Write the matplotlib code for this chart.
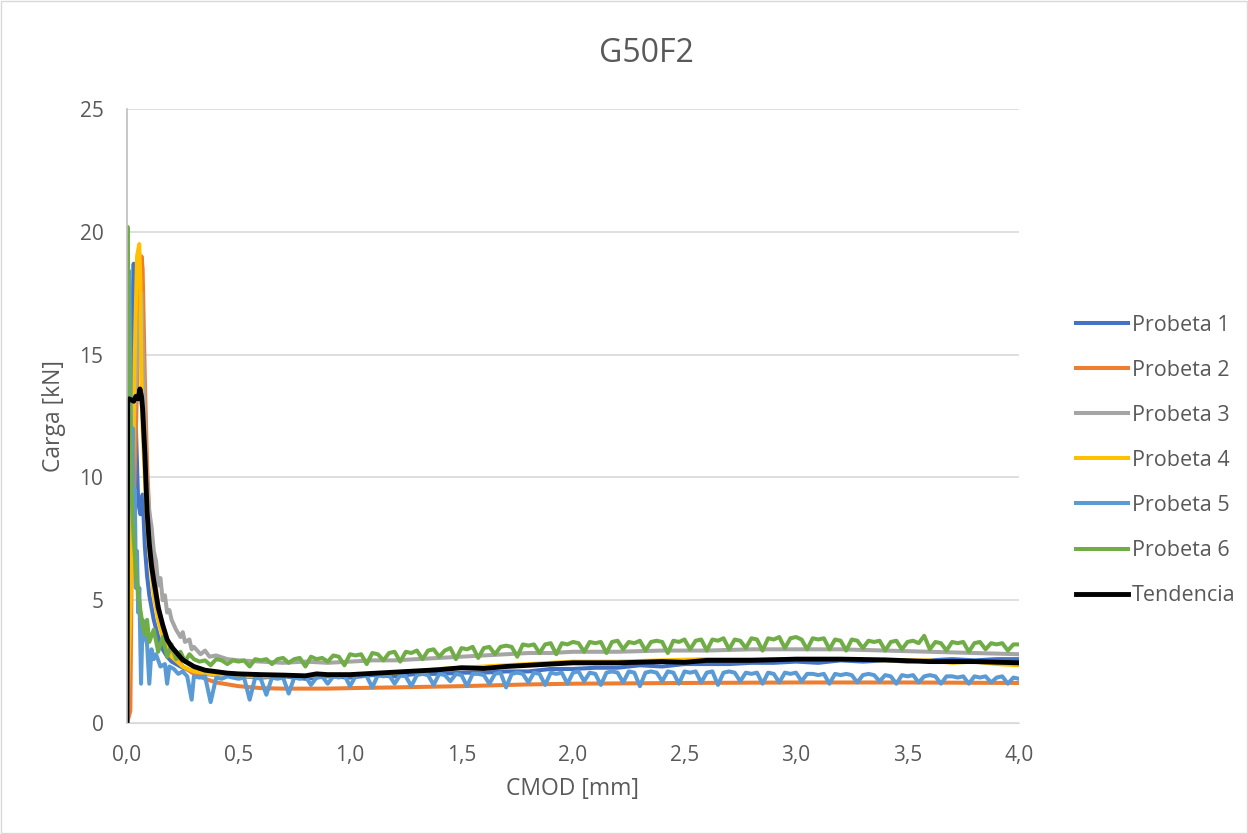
import matplotlib
matplotlib.use("Agg")
from matplotlib import pyplot as plt
from matplotlib.patches import Rectangle

# Probeta 1
p1_x = [0, 0.01, 0.02, 0.03, 0.035, 0.04, 0.05, 0.06, 0.07, 0.08, 0.09, 0.10, 0.12, 0.14, 0.16,
        0.18, 0.20, 0.25, 0.30, 0.35, 0.40, 0.50, 0.60, 0.70, 0.80, 0.90, 1.00, 1.10, 1.20, 1.30,
        1.40, 1.50, 1.60, 1.70, 1.80, 1.90, 2.00, 2.10, 2.20, 2.30, 2.40, 2.50, 2.60, 2.70, 2.80,
        2.90, 3.00, 3.10, 3.20, 3.30, 3.40, 3.50, 3.60, 3.70, 3.80, 3.90, 4.00]
p1_y = [0, 9.0, 15.0, 18.7, 17.0, 12.0, 9.0, 8.5, 9.3, 7.2, 6.0, 5.2, 4.2, 3.5, 3.0,
        2.7, 2.5, 2.25, 2.1, 2.0, 1.95, 1.9, 1.85, 1.9, 1.8, 1.9, 1.85, 1.95, 1.9, 2.0,
        2.0, 2.05, 2.05, 2.1, 2.1, 2.2, 2.2, 2.25, 2.25, 2.35, 2.3, 2.4, 2.4, 2.4, 2.45,
        2.45, 2.5, 2.45, 2.55, 2.5, 2.55, 2.5, 2.55, 2.6, 2.55, 2.6, 2.6]

# Probeta 2
p2_x = [0, 0.015, 0.02, 0.04, 0.055, 0.065, 0.07, 0.08, 0.09, 0.10, 0.12, 0.14, 0.16, 0.18,
        0.20, 0.25, 0.30, 0.35, 0.40, 0.50, 0.60, 0.70, 0.80, 0.90, 1.00, 1.20, 1.50, 1.80,
        2.00, 2.50, 3.00, 3.50, 4.00]
p2_y = [0, 0.5, 5.5, 12.0, 17.0, 19.0, 18.5, 14.0, 10.5, 8.5, 6.2, 4.8, 3.9, 3.3,
        2.9, 2.3, 2.0, 1.8, 1.65, 1.5, 1.42, 1.4, 1.4, 1.4, 1.42, 1.45, 1.5, 1.57,
        1.6, 1.63, 1.65, 1.65, 1.63]

# Probeta 3
p3_x = [0, 0.01, 0.03, 0.05, 0.065, 0.075, 0.085, 0.094, 0.10, 0.11, 0.12, 0.13, 0.14, 0.15,
        0.16, 0.17, 0.18, 0.19, 0.20, 0.21, 0.22, 0.24, 0.25, 0.26, 0.28, 0.29, 0.30, 0.33,
        0.35, 0.37, 0.40, 0.45, 0.50, 0.60, 0.70, 0.80, 0.90, 1.00, 1.10, 1.20, 1.30, 1.40,
        1.50, 1.60, 1.70, 1.80, 1.90, 2.00, 2.20, 2.40, 2.60, 2.80, 3.00, 3.20, 3.40, 3.60,
        3.80, 4.00]
p3_y = [0, 6.0, 12.0, 15.5, 17.5, 14.0, 10.5, 9.3, 8.6, 8.0, 7.0, 6.6, 5.6, 5.9,
        5.0, 5.2, 4.5, 4.6, 4.2, 4.0, 3.8, 3.5, 3.7, 3.3, 3.4, 3.0, 3.1, 2.8,
        2.95, 2.7, 2.75, 2.6, 2.55, 2.5, 2.45, 2.5, 2.45, 2.5, 2.55, 2.55, 2.6, 2.65,
        2.7, 2.75, 2.8, 2.85, 2.85, 2.9, 2.9, 2.95, 2.95, 3.0, 3.0, 3.0, 2.95, 2.9,
        2.85, 2.8]

# Probeta 4
p4_x = [0, 0.02, 0.035, 0.045, 0.055, 0.06, 0.065, 0.07, 0.08, 0.09, 0.10, 0.12, 0.14, 0.16,
        0.18, 0.20, 0.25, 0.30, 0.40, 0.50, 0.60, 0.70, 0.80, 0.90, 1.00, 1.10, 1.20, 1.30,
        1.40, 1.50, 1.60, 1.70, 1.80, 1.90, 2.00, 2.20, 2.40, 2.60, 2.80, 3.00, 3.20, 3.40,
        3.60, 3.70, 3.80, 3.90, 4.00]
p4_y = [0, 6.0, 15.0, 19.0, 19.5, 18.0, 14.0, 12.0, 10.0, 8.2, 7.0, 5.2, 4.2, 3.5,
        3.0, 2.7, 2.3, 2.1, 1.95, 1.9, 1.9, 1.9, 1.92, 1.95, 1.95, 2.0, 2.05, 2.1,
        2.2, 2.25, 2.3, 2.35, 2.4, 2.45, 2.5, 2.5, 2.55, 2.6, 2.6, 2.6, 2.6, 2.55,
        2.55, 2.45, 2.5, 2.4, 2.35]

# Probeta 5: initial part, then plateau sampled every 0.025 mm from 0.3 mm
p5_x = [0, 0.005, 0.01, 0.015, 0.02, 0.025, 0.03, 0.035, 0.04, 0.045, 0.05, 0.055, 0.063, 0.07,
        0.08, 0.09, 0.10, 0.11, 0.12, 0.13, 0.15, 0.17, 0.18, 0.19, 0.21, 0.23, 0.25, 0.27,
        0.29]
p5_y = [0, 8.0, 18.4, 14.0, 10.5, 12.0, 8.5, 9.5, 5.5, 7.0, 4.5, 5.5, 1.6, 4.2,
        3.6, 3.2, 1.6, 3.0, 2.6, 2.8, 2.3, 2.4, 1.6, 2.3, 2.2, 2.0, 2.1, 1.9,
        0.95]
p5_plateau = [1.9, 1.85, 1.9, 0.85, 1.85, 1.8, 1.9, 1.85,
              1.8, 1.85, 0.95, 1.85, 1.8, 1.15, 1.85, 1.8,
              1.85, 1.2, 1.85, 1.8, 1.9, 1.55, 1.85, 1.9,
              1.6, 1.9, 1.85, 1.95, 1.5, 1.9, 1.95, 1.9,
              1.45, 1.95, 1.9, 1.95, 1.6, 1.95, 1.9, 1.5,
              1.95, 2.0, 1.95, 1.55, 2.0, 1.95, 1.7, 2.0,
              1.95, 1.5, 2.0, 2.0, 1.95, 1.6, 2.0, 2.05,
              1.45, 2.0, 2.05, 2.0, 1.65, 2.05, 2.0, 1.55,
              2.05, 2.0, 2.05, 1.6, 2.05, 2.1, 1.7, 2.05,
              2.0, 1.55, 2.05, 2.1, 2.05, 1.65, 2.1, 2.05,
              1.5, 2.05, 2.1, 2.05, 1.7, 2.1, 2.05, 1.6,
              2.1, 2.05, 2.1, 1.65, 2.05, 2.1, 1.55, 2.05,
              2.1, 2.05, 1.7, 2.05, 2.0, 2.05, 1.6, 2.05,
              2.0, 1.65, 2.05, 2.0, 2.05, 1.7, 2.0, 2.0,
              1.95, 2.0, 1.6, 2.0, 1.95, 2.0, 1.95, 1.65,
              1.95, 2.0, 1.95, 1.7, 1.95, 1.9, 1.6, 1.95,
              1.9, 1.95, 1.65, 1.9, 1.95, 1.9, 1.6, 1.9,
              1.9, 1.85, 1.9, 1.6, 1.9, 1.85, 1.9, 1.65,
              1.85, 1.9, 1.6, 1.85, 1.8]

# Probeta 6: initial part, then plateau sampled every 0.025 mm from 0.3 mm
p6_x = [0, 0.003, 0.006, 0.01, 0.015, 0.02, 0.03, 0.04, 0.05, 0.06, 0.07, 0.08, 0.09, 0.10,
        0.12, 0.14, 0.16, 0.18, 0.20, 0.22, 0.24, 0.26, 0.28]
p6_y = [0, 20.2, 17.5, 14.0, 11.5, 9.5, 7.5, 6.2, 5.3, 4.6, 4.0, 3.6, 4.2, 3.3,
        3.8, 2.9, 3.5, 2.7, 3.2, 2.6, 2.9, 2.5, 2.8]
p6_plateau = [2.6, 2.5, 2.55, 2.35, 2.6, 2.55, 2.4, 2.55,
              2.5, 2.55, 2.3, 2.6, 2.55, 2.6, 2.4, 2.6,
              2.65, 2.45, 2.6, 2.65, 2.3, 2.7, 2.6, 2.65,
              2.5, 2.75, 2.7, 2.35, 2.8, 2.75, 2.8, 2.4,
              2.85, 2.8, 2.55, 2.85, 2.9, 2.5, 2.9, 2.85,
              2.95, 2.6, 2.95, 3.0, 2.7, 2.95, 3.05, 2.6,
              3.05, 3.0, 3.1, 2.65, 3.05, 3.1, 2.8, 3.1,
              3.15, 3.1, 2.7, 3.2, 3.15, 3.2, 2.85, 3.2,
              3.25, 2.8, 3.25, 3.2, 3.3, 3.25, 2.9, 3.3,
              3.25, 3.3, 2.85, 3.3, 3.35, 3.0, 3.3, 3.25,
              3.35, 2.95, 3.3, 3.35, 3.3, 2.85, 3.35, 3.3,
              3.4, 3.0, 3.35, 3.4, 2.95, 3.4, 3.35, 3.45,
              3.0, 3.4, 3.35, 3.05, 3.45, 3.4, 2.95, 3.45,
              3.4, 3.5, 3.05, 3.45, 3.5, 3.4, 3.0, 3.45,
              3.4, 3.45, 3.0, 3.4, 3.35, 2.95, 3.4, 3.35,
              3.05, 3.35, 3.3, 3.35, 2.95, 3.3, 3.35, 3.0,
              3.3, 3.35, 3.25, 3.55, 3.0, 3.3, 3.25, 2.95,
              3.3, 3.25, 3.3, 2.9, 3.25, 3.3, 3.0, 3.25,
              3.2, 3.25, 2.95, 3.2, 3.2]

# Tendencia
tend_x = [0, 0.003, 0.01, 0.03, 0.04, 0.05, 0.058, 0.065, 0.07, 0.08, 0.09, 0.10, 0.11, 0.12,
          0.14, 0.16, 0.18, 0.20, 0.25, 0.30, 0.35, 0.45, 0.50, 0.60, 0.70, 0.80, 0.85, 0.90,
          1.00, 1.10, 1.20, 1.30, 1.40, 1.50, 1.60, 1.70, 1.80, 1.90, 2.00, 2.20, 2.40, 2.50,
          2.60, 2.80, 3.00, 3.20, 3.40, 3.60, 3.80, 4.00]
tend_y = [0, 13.1, 13.2, 13.1, 13.3, 13.2, 13.6, 13.3, 12.8, 11.0, 8.6, 7.3, 6.4, 5.8,
          4.7, 4.0, 3.4, 3.1, 2.57, 2.3, 2.15, 2.03, 2.0, 1.97, 1.95, 1.92, 2.0, 1.97,
          1.97, 2.02, 2.07, 2.12, 2.17, 2.25, 2.22, 2.3, 2.35, 2.4, 2.45, 2.45, 2.5, 2.47,
          2.55, 2.55, 2.6, 2.6, 2.57, 2.5, 2.5, 2.45]

# plateau sampling grid of the noisy records (0.3 ... 4.0 mm)
plateau_x = [round(0.3 + 0.025 * i, 3) for i in range(len(p6_plateau))]

series = [
    ("Probeta 1", p1_x, p1_y, "#4472C4", 2.9),
    ("Probeta 2", p2_x, p2_y, "#ED7D31", 2.9),
    ("Probeta 3", p3_x, p3_y, "#A5A5A5", 2.9),
    ("Probeta 4", p4_x, p4_y, "#FFC000", 2.9),
    ("Probeta 5", p5_x + plateau_x, p5_y + p5_plateau, "#5B9BD5", 2.9),
    ("Probeta 6", p6_x + plateau_x, p6_y + p6_plateau, "#70AD47", 2.9),
    ("Tendencia", tend_x, tend_y, "#000000", 3.5),
]

text_color = "#595959"
plt.rcParams['font.family'] = ['Open Sans', 'DejaVu Sans']

fig = plt.figure(figsize=(12.48, 8.34), dpi=100)
fig.patches.append(Rectangle((0.0005, 0.0008), 0.999, 0.998, transform=fig.transFigure,
                             fill=False, edgecolor="#d9d9d9", linewidth=1))
ax = fig.add_axes([127 / 1248, 111 / 834, 892 / 1248, 614 / 834])

for name, xs, ys, color, lw in series:
    ax.plot(xs, ys, color=color, linewidth=lw, label=name, solid_joinstyle="round")

ax.set_xlim(0, 4.0)
ax.set_ylim(0, 25)
xticks = [0, 0.5, 1.0, 1.5, 2.0, 2.5, 3.0, 3.5, 4.0]
ax.set_xticks(xticks)
ax.set_xticklabels([f"{t:.1f}".replace(".", ",") for t in xticks])
ax.set_yticks([0, 5, 10, 15, 20, 25])
ax.tick_params(length=0, labelsize=15, colors=text_color)
ax.tick_params(axis="x", pad=16)
ax.tick_params(axis="y", pad=17)
ax.grid(axis="y", color="#d9d9d9", linewidth=1.2)
ax.set_axisbelow(True)
for side in ["top", "right"]:
    ax.spines[side].set_visible(False)
ax.spines["bottom"].set_color("#d9d9d9")
ax.spines["left"].set_color("#bfbfbf")
ax.spines["left"].set_linewidth(1.2)

ax.set_xlabel("CMOD [mm]", fontsize=16.5, color=text_color, labelpad=8)
ax.set_ylabel("Carga [kN]", fontsize=16.5, color=text_color, labelpad=10)
fig.text(0.518, 0.936, "G50F2", fontsize=23, color=text_color, ha="center", va="center")

leg = fig.legend(loc="center left", bbox_to_anchor=(0.8466, 0.448), frameon=False,
                 fontsize=15.5, handlelength=2.4, labelspacing=1.12, handletextpad=0.2)
for t in leg.get_texts():
    t.set_color(text_color)

fig.savefig("out.png", dpi=100)
